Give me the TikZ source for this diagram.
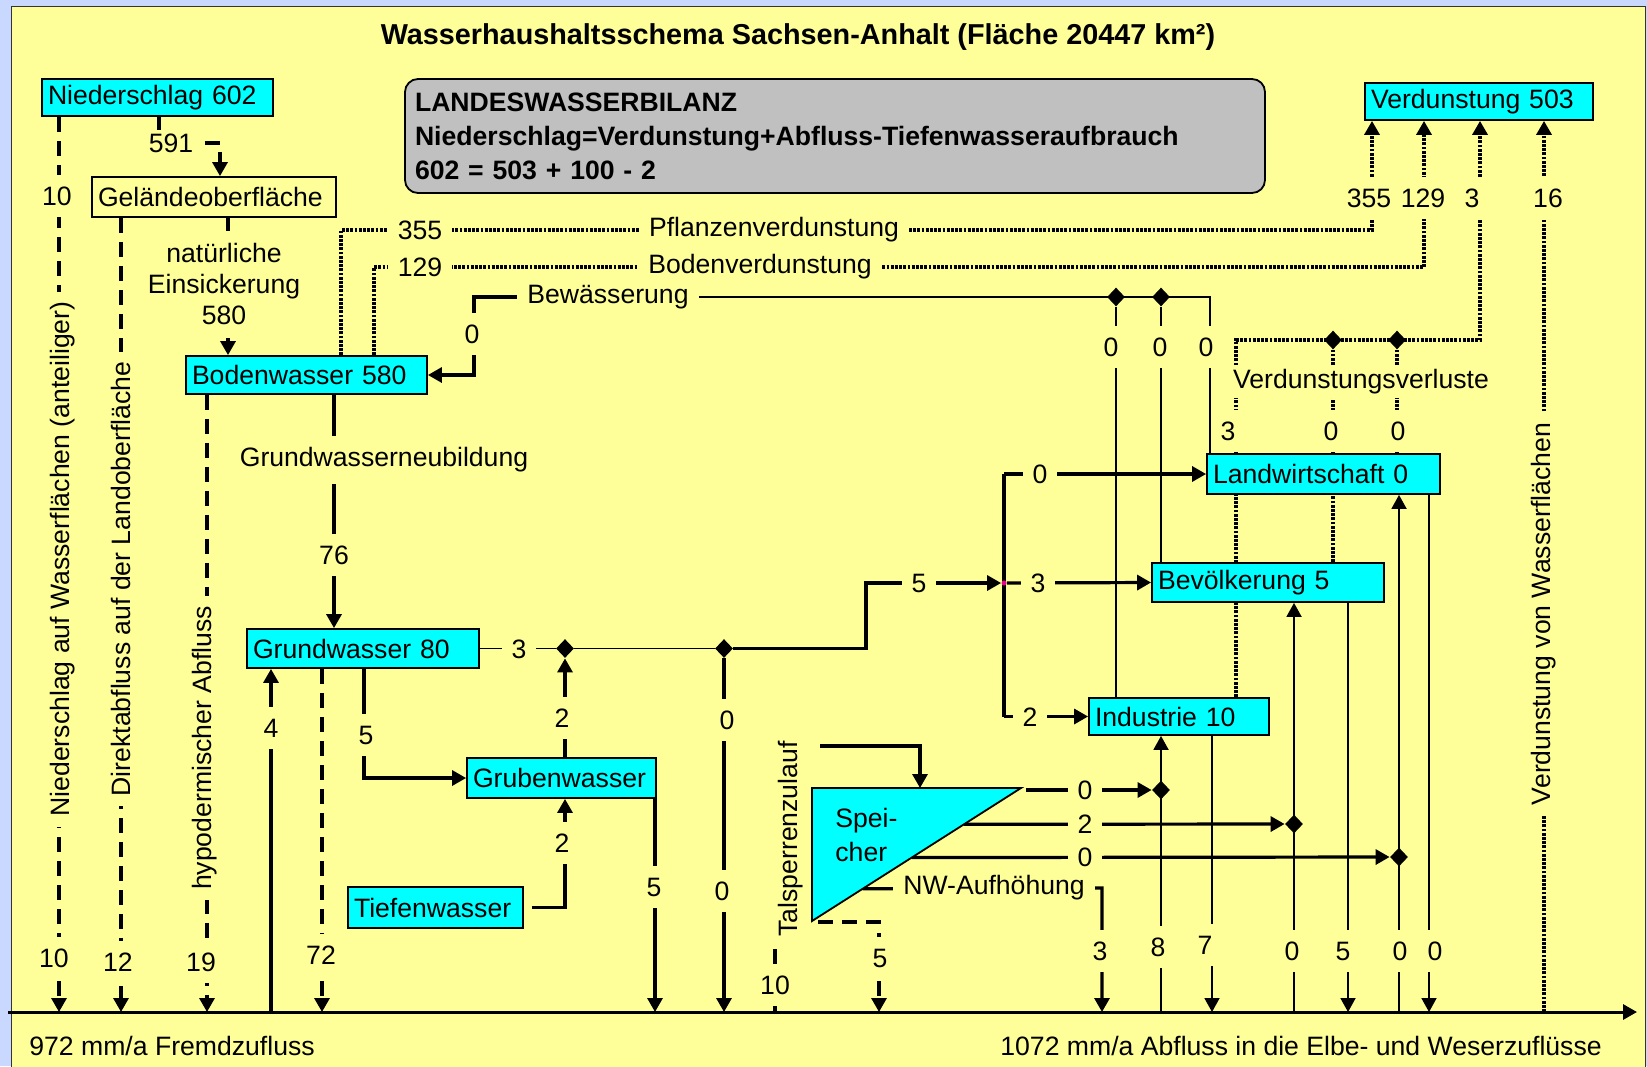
\documentclass[tikz,border=0pt]{standalone}
\usepackage{fontspec}
\setmainfont{Liberation Sans}
\usetikzlibrary{arrows.meta,calc,shapes.geometric}
\definecolor{whink}{HTML}{000000}
\definecolor{whframe}{HTML}{C8D8FF}
\definecolor{whpanel}{HTML}{FFFF99}
\definecolor{whcyan}{HTML}{00FFFF}
\definecolor{whgrey}{HTML}{C0C0C0}
\newcommand{\whfont}{\fontsize{13.3}{15.5}\selectfont}
\pgfdeclarelayer{whback}
\pgfdeclarelayer{whwires}
\pgfsetlayers{whback,whwires,main}
\tikzset{
  whbox/.style={
    draw=whink,
    fill=whcyan,
    line width=0.9pt,
    align=left,
    inner xsep=3pt,
    inner ysep=0pt,
    text=whink
  },
  whnote/.style={
    draw=whink,
    fill=whgrey,
    rounded corners=6.5pt,
    line width=0.9pt,
    align=left,
    text width=420pt,
    minimum height=57pt,
    inner xsep=5pt,
    font=\fontsize{13.3}{17}\selectfont\bfseries
  },
  whknot/.style={
    diamond,
    fill=whink,
    inner sep=0pt,
    minimum width=9pt,
    minimum height=9.5pt
  },
  whsplit/.style={
    circle,
    fill=magenta,
    inner sep=0pt,
    minimum size=2.5pt
  },
  whlbl/.style={
    fill=whpanel,
    inner xsep=5pt,
    inner ysep=2pt
  },
  whvlbl/.style={
    fill=whpanel,
    inner xsep=2pt,
    inner ysep=6pt
  },
  whrlbl/.style={
    fill=whpanel,
    rotate=90,
    inner xsep=5pt,
    inner ysep=1pt
  },
  whtip/.style={-{Triangle[length=7pt,width=7.5pt]}},
  whpipe/.style={line width=1.6pt},
  whflow/.style={whpipe, whtip},
  whthin/.style={line width=0.9pt},
  whthinflow/.style={whthin, whtip},
  whdash/.style={line width=1.6pt, dash pattern=on 7.5pt off 4.5pt},
  whdashflow/.style={whdash, whtip},
  whdot/.style={line width=1.7pt, dash pattern=on 1.4pt off 0.7pt},
  whdotflow/.style={whdot, whtip}
}

\begin{document}
\begin{tikzpicture}[x=0.5pt,y=-0.5pt,font=\whfont]
  \useasboundingbox (0,0) rectangle (1647,1066);
  \begin{pgfonlayer}{whback}
    \fill[whframe] (0,0) rectangle (1647,1066);
    \draw[draw=whink!80, fill=whpanel, line width=0.9pt] (11.5,6.5) rectangle (1645.5,1072);
  \end{pgfonlayer}

  \node[font=\fontsize{14.4}{17}\selectfont\bfseries] (title) at (798,37)
    {Wasserhaushaltsschema Sachsen-Anhalt (Fläche 20447 km²)};
  \node[whnote] (bilanz) at (835,136)
    {LANDESWASSERBILANZ\\Niederschlag=Verdunstung+Abfluss-Tiefenwasseraufbrauch\\602 = 503 + 100 - 2};

  % speicher und bilanzglieder
  \node[whbox, text width=109.5pt, minimum height=18.5pt] (nds) at (157.5,97.5) {Niederschlag 602};
  \node[whbox, fill=whpanel, text width=116pt, minimum height=20pt] (gof) at (214,197) {Geländeoberfläche};
  \node[whbox, text width=114.5pt, minimum height=19pt] (bow) at (306.5,375) {Bodenwasser 580};
  \node[whbox, text width=110pt, minimum height=19.5pt] (grw) at (363,648.5) {Grundwasser 80};
  \node[whbox, text width=88.5pt, minimum height=20pt] (gbw) at (561.5,778) {Grubenwasser};
  \node[whbox, text width=81.5pt, minimum height=20.5pt] (tfw) at (435.5,907.5) {Tiefenwasser};
  \node[whbox, text width=110.5pt, minimum height=20pt] (lwi) at (1323.5,474) {Landwirtschaft 0};
  \node[whbox, text width=110pt, minimum height=19.5pt] (bev) at (1268,582.5) {Bevölkerung 5};
  \node[whbox, text width=84pt, minimum height=18.5pt] (ind) at (1179,716.5) {Industrie 10};
  \node[whbox, text width=108pt, minimum height=18.5pt] (vdu) at (1479,101.5) {Verdunstung 503};

  \coordinate (spA) at (812,788);
  \coordinate (spB) at (1021,788);
  \coordinate (spC) at (812,921);
  \filldraw[fill=whcyan, draw=whink, line width=0.9pt] (spA) -- (spB) -- (spC) -- cycle;
  \node[anchor=west, align=left, inner sep=0pt, font=\fontsize{13.3}{17}\selectfont] (spt) at (835,835) {Spei-\\cher};

  \coordinate (axL) at (8,1012);
  \coordinate (axR) at (1637,1012);

  \node[whknot] (kgw1) at (565,648.5) {};
  \node[whknot] (kgw2) at (724,648.5) {};
  \node[whknot] (kbw1) at (1116,297) {};
  \node[whknot] (kbw2) at (1161,297) {};
  \node[whknot] (kvv1) at (1333,340) {};
  \node[whknot] (kvv2) at (1397,340) {};
  \node[whknot] (ksp1) at (1161,790) {};
  \node[whknot] (ksp2) at (1294,824) {};
  \node[whknot] (ksp3) at (1399,857) {};
  \node[whsplit] (split) at (1004,583) {};

  % beschriftungen
  \foreach \nm/\x/\y/\txt in {l591/171/143/591, l355a/420/230/355, lpfl/774/230/Pflanzenverdunstung,
      l129a/420/267/129, lbod/760/267/Bodenverdunstung, bew/608/297/Bewässerung, lgw3/519/649/3,
      ld5/919/583/5, lv0/1040/474/0, lv3/1038/583/3, lv2/1030/717/2, ls0a/1085/790/0, ls2/1085/824/2,
      ls0b/1085/857/0, lnwa/994/888/NW-Aufhöhung, lvvl/1361/382/Verdunstungsverluste}
    \node[whlbl] (\nm) at (\x,\y) {\txt};
  \foreach \nm/\x/\y/\txt in {l10a/57/196/10, l10b/54/958/10, l12/118/962/12, l19/201/962/19,
      l76/334/555/76, l0bw/472/334/0, l4/271/728/4, l72/321/955/72, l5a/366/735/5, l2a/562/718/2,
      l2b/562/843/2, l5b/654/887/5, l0c/727/720/0, l0d/722/891/0, l10c/775/985/10, l5c/880/958/5,
      l3a/1100/951/3, l8/1158/947/8, l7/1205/945/7, l0e/1292/951/0, l5d/1343/951/5, l0f/1400/951/0,
      l0g/1435/951/0, l0h/1111/347/0, l0i/1160/347/0, l0j/1206/347/0, l3b/1228/431/3, l0k/1331/431/0,
      l0l/1398/431/0, l355b/1369/198/355, l129b/1423/198/129, l3c/1472/198/3, l16/1548/198/16,
      lgwn/384/460/Grundwasserneubildung}
    \node[whvlbl] (\nm) at (\x,\y) {\txt};
  \node[whvlbl, align=center, font=\fontsize{13.3}{15.5}\selectfont] (lnat) at (224,284) {natürliche\\Einsickerung\\580};
  \node[whrlbl] (lnwf) at (63,559) {Niederschlag auf Wasserflächen (anteiliger)};
  \node[whrlbl] (ldir) at (121,579) {Direktabfluss auf der Landoberfläche};
  \node[whrlbl] (lhyp) at (205,748) {hypodermischer Abfluss};
  \node[whrlbl] (lvwf) at (1544,614) {Verdunstung von Wasserflächen};
  \node[whrlbl] (ltsz) at (791,839) {Talsperrenzulauf};
  \node[anchor=west, inner sep=0pt] (fremd) at (29,1046) {972 mm/a Fremdzufluss};
  \node[anchor=west, inner sep=0pt] (abfl) at (1000,1046) {1072 mm/a Abfluss in die Elbe- und Weserzuflüsse};

  \begin{pgfonlayer}{whwires}
    \draw[whflow, line width=1.5pt] (axL) -- (axR);
    % niederschlag, oberflaeche, boden
    \draw[whdashflow] (59,0 |- nds.south) -- (59,0 |- axL);
    \draw[whdashflow] (159,0 |- nds.south) -- (159,143) -- (220,143) -- (220,0 |- gof.north);
    \draw[whdashflow] (121,0 |- gof.south) -- (121,0 |- axL);
    \draw[whdashflow] (228,0 |- gof.south) -- (228,0 |- bow.north);
    \draw[whdashflow] (207,0 |- bow.south) -- (207,0 |- axL);
    \draw[whflow] (334,0 |- bow.south) -- (334,0 |- grw.north);
    \draw[whdotflow] (341,0 |- bow.north) -- (341,230) -- (1372,230) -- (1372,0 |- vdu.south);
    \draw[whdotflow] (374,0 |- bow.north) -- (374,267) -- (1424,267) -- (1424,0 |- vdu.south);
    \draw[whthin] (1210,0 |- lwi.north) -- (1210,297) -- (bew.east);
    \draw[whthin] (kbw1 |- ind.north) -- (kbw1);
    \draw[whthin] (kbw2 |- bev.north) -- (kbw2);
    \draw[whflow] (bew.west) -- (474,297) -- (474,0 |- bow.east) -- (bow.east);
    % grundwasser
    \draw[whthin] (grw.east) -- (kgw1) -- (kgw2);
    \draw[whflow] (kgw2) -- (866,0 |- kgw2) -- (866,0 |- split) -- (split);
    \draw[whflow] (kgw2) -- (kgw2 |- axL);
    \draw[whflow] (271,0 |- axL) -- (271,0 |- grw.south);
    \draw[whdashflow] (322,0 |- grw.south) -- (322,0 |- axL);
    \draw[whflow] (364,0 |- grw.south) -- (364,0 |- gbw.west) -- (gbw.west);
    \draw[whflow] ([xshift=4pt]tfw.east) -- (kgw1 |- tfw.east) -- (kgw1 |- gbw.south);
    \draw[whflow] (kgw1 |- gbw.north) -- (kgw1);
    \draw[whflow] (655,0 |- gbw.south) -- (655,0 |- axL);
    % nutzer
    \draw[whpipe] (split |- lwi.west) -- (split |- ind.west);
    \draw[whflow] (split |- lwi.west) -- (lwi.west);
    \draw[whflow] (split) -- (bev.west);
    \draw[whflow] (split |- ind.west) -- (ind.west);
    \draw[whdotflow] (1236,0 |- ind.north) -- (1236,0 |- kvv1) -- (1480,0 |- kvv1) -- (1480,0 |- vdu.south);
    \draw[whdot] (kvv1 |- bev.north) -- (kvv1);
    \draw[whdot] (kvv2 |- lwi.north) -- (kvv2);
    \draw[whdotflow] (1544,0 |- axL) -- (1544,0 |- vdu.south);
    % talsperre
    \draw[whdash] (775,0 |- axL) -- (775,0 |- ltsz.west);
    \draw[whflow] (820,746) -- (920,746) -- (920,0 |- spA);
    \draw[whflow] ($(spB)+(5,2)$) -- (ksp1.west);
    \draw[whflow] ($(spB)!0.273!(spC)$) -- (ksp2.west);
    \draw[whflow] ($(spB)!0.523!(spC)$) -- (ksp3.west);
    \draw[whflow] ($(spB)!0.758!(spC)$) -- (1102,0 |- lnwa) -- (1102,0 |- axL);
    \draw[whdashflow] ($(spC)+(6,1)$) -- (879,922) -- (879,0 |- axL);
    % zu- und abfluesse rechts
    \draw[whthinflow] (ksp1 |- axL) -- (ksp1 |- ind.south);
    \draw[whthinflow] (1212,0 |- ind.south) -- (1212,0 |- axL);
    \draw[whthinflow] (ksp2 |- axL) -- (ksp2 |- bev.south);
    \draw[whthinflow] (1348,0 |- bev.south) -- (1348,0 |- axL);
    \draw[whthinflow] (ksp3 |- axL) -- (ksp3 |- lwi.south);
    \draw[whthinflow] (1429,0 |- lwi.south) -- (1429,0 |- axL);
  \end{pgfonlayer}
\end{tikzpicture}
\end{document}
